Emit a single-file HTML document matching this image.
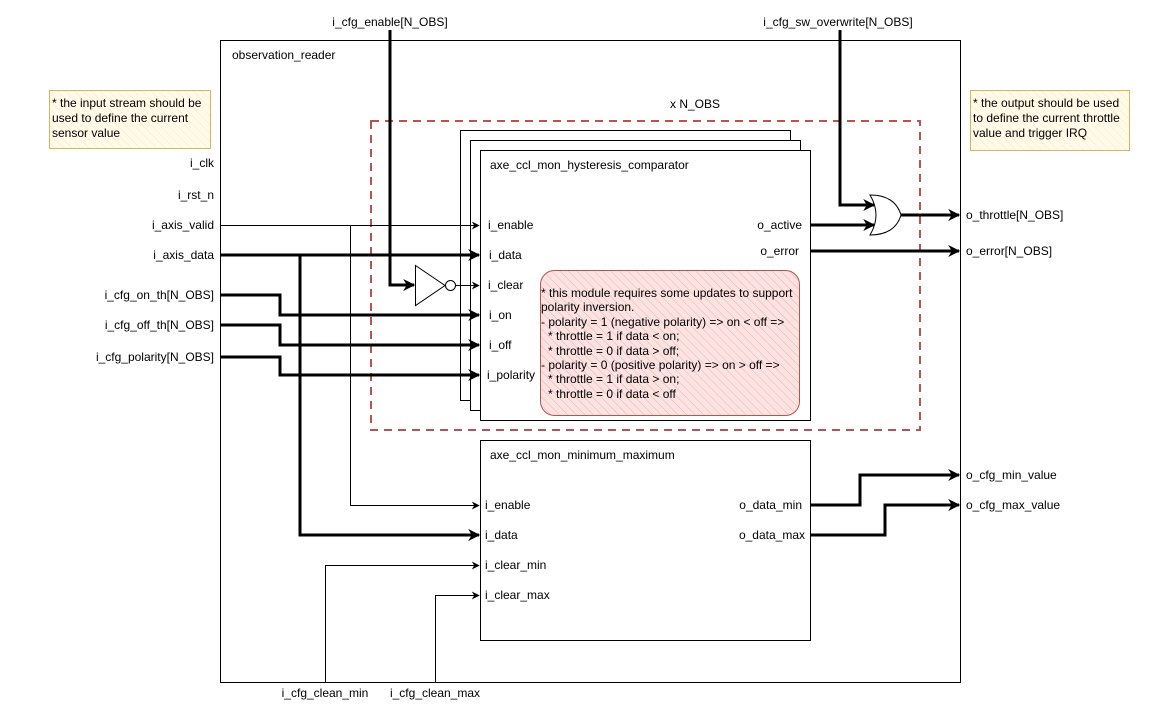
<!DOCTYPE html>
<html><head><meta charset="utf-8"><style>
html,body{margin:0;padding:0;background:#fff}
svg{display:block}
text{font-family:"Liberation Sans",Arial,sans-serif;font-size:12px;fill:#000}
</style></head><body>
<svg width="1151" height="720" viewBox="0 0 1151 720" xmlns="http://www.w3.org/2000/svg">
<defs>
<marker id="a" viewBox="0 0 10 10" refX="9" refY="5" markerWidth="4" markerHeight="4" orient="auto" markerUnits="strokeWidth"><path d="M0,0 L10,5 L0,10 L3,5 z" fill="#000"/></marker>
<marker id="at" viewBox="0 0 10 10" refX="9" refY="5" markerWidth="8" markerHeight="8" orient="auto" markerUnits="userSpaceOnUse"><path d="M0,0 L10,5 L0,10 L3,5 z" fill="#000"/></marker>
<pattern id="hr" width="6" height="6" patternUnits="userSpaceOnUse" patternTransform="rotate(-45)"><rect width="6" height="6" fill="#fbe3e2"/><line x1="0" y1="0" x2="0" y2="6" stroke="#f0b0ae" stroke-width="1"/></pattern>
<pattern id="hy" width="6" height="6" patternUnits="userSpaceOnUse" patternTransform="rotate(-45)"><rect width="6" height="6" fill="#fffaea"/><line x1="0" y1="0" x2="0" y2="6" stroke="#fbe9b5" stroke-width="1"/></pattern>
</defs>
<rect x="220.5" y="40.5" width="740" height="642" fill="none" stroke="#000"/>
<text x="232" y="59">observation_reader</text>
<rect x="371" y="121" width="549" height="309" fill="none" stroke="#b85450" stroke-width="2" stroke-dasharray="8,6"/>
<text x="695" y="108" text-anchor="middle">x N_OBS</text>
<rect x="460.5" y="130.5" width="330" height="270" fill="#fff" stroke="#000"/>
<rect x="470.5" y="140.5" width="330" height="270" fill="#fff" stroke="#000"/>
<rect x="480.5" y="150.5" width="330" height="270" fill="#fff" stroke="#000"/>
<text x="490" y="169">axe_ccl_mon_hysteresis_comparator</text>
<text x="488" y="229">i_enable</text>
<text x="489" y="259">i_data</text>
<text x="488" y="289">i_clear</text>
<text x="489" y="319">i_on</text>
<text x="489" y="349">i_off</text>
<text x="487" y="379">i_polarity</text>
<text x="802" y="229" text-anchor="end">o_active</text>
<text x="799" y="255" text-anchor="end">o_error</text>
<rect x="540.5" y="270.5" width="259" height="145" rx="14" fill="url(#hr)" stroke="#b85450"/>
<g font-size="12">
<text x="541" y="297">* this module requires some updates to support</text>
<text x="541" y="311">polarity inversion.</text>
<text x="541" y="326">- polarity = 1 (negative polarity) =&gt; on &lt; off =&gt;</text>
<text x="548" y="340">* throttle = 1 if data &lt; on;</text>
<text x="548" y="355">* throttle = 0 if data &gt; off;</text>
<text x="541" y="369">- polarity = 0 (positive polarity) =&gt; on &gt; off =&gt;</text>
<text x="548" y="383">* throttle = 1 if data &gt; on;</text>
<text x="548" y="398">* throttle = 0 if data &lt; off</text>
</g>
<rect x="480.5" y="440.5" width="330" height="200" fill="#fff" stroke="#000"/>
<text x="490" y="459">axe_ccl_mon_minimum_maximum</text>
<text x="485" y="509">i_enable</text>
<text x="485" y="539">i_data</text>
<text x="485" y="569">i_clear_min</text>
<text x="485" y="599">i_clear_max</text>
<text x="802" y="509" text-anchor="end">o_data_min</text>
<text x="805" y="539" text-anchor="end">o_data_max</text>
<g text-anchor="end">
<text x="214" y="167">i_clk</text>
<text x="214" y="199">i_rst_n</text>
<text x="214" y="229">i_axis_valid</text>
<text x="214" y="259">i_axis_data</text>
<text x="214" y="299">i_cfg_on_th[N_OBS]</text>
<text x="214" y="329">i_cfg_off_th[N_OBS]</text>
<text x="214" y="361">i_cfg_polarity[N_OBS]</text>
</g>
<text x="966" y="219">o_throttle[N_OBS]</text>
<text x="966" y="255">o_error[N_OBS]</text>
<text x="966" y="479">o_cfg_min_value</text>
<text x="966" y="509">o_cfg_max_value</text>
<text x="390" y="26" text-anchor="middle">i_cfg_enable[N_OBS]</text>
<text x="838" y="26" text-anchor="middle">i_cfg_sw_overwrite[N_OBS]</text>
<text x="325" y="697" text-anchor="middle">i_cfg_clean_min</text>
<text x="435" y="697" text-anchor="middle">i_cfg_clean_max</text>
<g fill="none" stroke="#000">
<polyline points="220,225.5 479,225.5" marker-end="url(#at)"/>
<polyline points="350.5,225 350.5,505.5 479,505.5" marker-end="url(#at)"/>
<polyline points="325.5,682 325.5,565.5 479,565.5" marker-end="url(#at)"/>
<polyline points="435.5,682 435.5,595.5 479,595.5" marker-end="url(#at)"/>
<polyline points="456,285.5 479,285.5" marker-end="url(#at)"/>
</g>
<g fill="none" stroke="#000" stroke-width="3">
<polyline points="220,255 479,255" marker-end="url(#a)"/>
<polyline points="300,255 300,535 479,535" marker-end="url(#a)"/>
<polyline points="220,295 280,295 280,315 479,315" marker-end="url(#a)"/>
<polyline points="220,325 280,325 280,345 479,345" marker-end="url(#a)"/>
<polyline points="220,357 280,357 280,375 479,375" marker-end="url(#a)"/>
<polyline points="390,40 390,285 414,285" marker-end="url(#a)"/>
<polyline points="840,40 840,205 874,205" marker-end="url(#a)"/>
<polyline points="810,225 874,225" marker-end="url(#a)"/>
<polyline points="900,215 959,215" marker-end="url(#a)"/>
<polyline points="810,251 959,251" marker-end="url(#a)"/>
<polyline points="810,505 860,505 860,475 959,475" marker-end="url(#a)"/>
<polyline points="810,535 885,535 885,505 959,505" marker-end="url(#a)"/>
</g>
<line x1="390" y1="30" x2="390" y2="41" stroke="#000" stroke-width="3"/>
<line x1="840" y1="30" x2="840" y2="41" stroke="#000" stroke-width="3"/>
<polygon points="415.5,265.5 445,285.5 415.5,305.5" fill="#fff" stroke="#000"/>
<circle cx="450.5" cy="285.5" r="5" fill="#fff" stroke="#000"/>
<path d="M870,195 Q895,195 901,215 Q895,235 870,235 Q882,215 870,195 z" fill="#fff" stroke="#000"/>
<rect x="49.5" y="90.5" width="161" height="58" fill="url(#hy)" stroke="#d6b656"/>
<text x="52" y="107">* the input stream should be</text>
<text x="52" y="122">used to define the current</text>
<text x="52" y="137">sensor value</text>
<rect x="970.5" y="90.5" width="159" height="60" fill="url(#hy)" stroke="#d6b656"/>
<text x="973" y="107">* the output should be used</text>
<text x="973" y="122">to define the current throttle</text>
<text x="973" y="137">value and trigger IRQ</text>
</svg>
</body></html>
